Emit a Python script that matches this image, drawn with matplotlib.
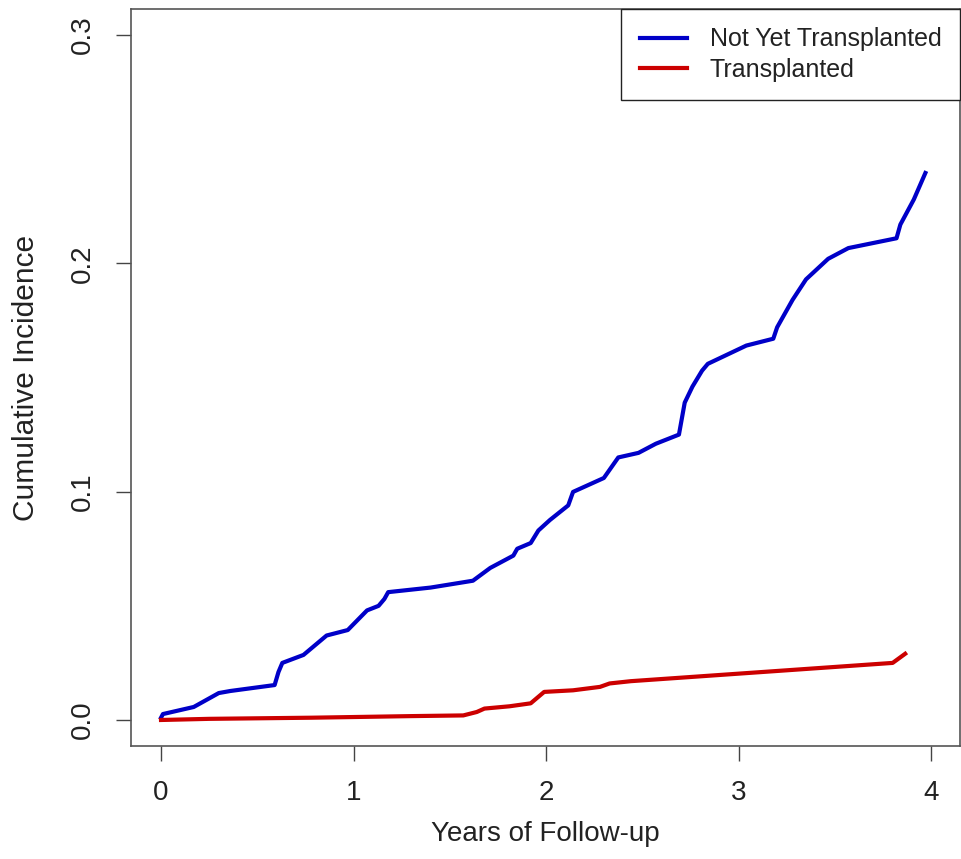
import matplotlib
matplotlib.use('Agg')
import matplotlib.pyplot as plt

plt.rcParams['font.family'] = ['Liberation Sans', 'DejaVu Sans']

# ── Dados ─────────────────────────────────────────────────────────────────────
years_not_tx = [0.00, 0.01, 0.17, 0.30, 0.36, 0.59, 0.61, 0.63, 0.74, 0.86,
                0.97, 1.07, 1.13, 1.16, 1.18, 1.40, 1.62, 1.71, 1.83, 1.85,
                1.92, 1.96, 2.02, 2.115, 2.14, 2.30, 2.375, 2.48, 2.57, 2.69,
                2.72, 2.76, 2.81, 2.84, 3.04, 3.18, 3.20, 3.28, 3.35, 3.465,
                3.57, 3.82, 3.84, 3.91, 3.97]
cif_not_tx = [0.0010, 0.0026, 0.0057, 0.0118, 0.0127, 0.0153, 0.0210, 0.0250,
              0.0285, 0.0370, 0.0394, 0.0480, 0.0500, 0.0530, 0.0560, 0.0580,
              0.0610, 0.0666, 0.0720, 0.0750, 0.0775, 0.0830, 0.0876, 0.0940,
              0.0999, 0.1060, 0.1150, 0.1170, 0.1210, 0.1250, 0.1390, 0.1460,
              0.1530, 0.1560, 0.1640, 0.1670, 0.1720, 0.1840, 0.1930, 0.2020,
              0.2067, 0.2110, 0.2170, 0.2280, 0.2396]

years_tx = [0.00, 0.25, 0.78, 1.30, 1.57, 1.64, 1.68, 1.81, 1.92, 1.99,
            2.14, 2.28, 2.33, 2.44, 3.80, 3.865]
cif_tx = [0.0000, 0.0005, 0.0010, 0.0017, 0.0020, 0.0035, 0.0050, 0.0060,
          0.0073, 0.0123, 0.0130, 0.0145, 0.0160, 0.0170, 0.0250, 0.0290]

labels = ['Not Yet Transplanted', 'Transplanted']
colors = ['#0000C8', '#CC0000']
x_ticks = [0, 1, 2, 3, 4]
y_ticks = [0.0, 0.1, 0.2, 0.3]
y_tick_labels = ['0.0', '0.1', '0.2', '0.3']

# ── Figura ────────────────────────────────────────────────────────────────────
fig = plt.figure(figsize=(9.61, 8.59), dpi=100)
ax = fig.add_axes([0.1363, 0.131, 0.8627, 0.859])

ax.plot(years_not_tx, cif_not_tx, color=colors[0], lw=3.0, label=labels[0],
        solid_joinstyle='round')
ax.plot(years_tx, cif_tx, color=colors[1], lw=3.0, label=labels[1],
        solid_joinstyle='round')

ax.set_xlim(-0.156, 4.15)
ax.set_ylim(-0.0116, 0.3116)

ax.set_xticks(x_ticks)
ax.set_yticks(y_ticks)
ax.set_yticklabels(y_tick_labels, rotation=90, va='center')
ax.tick_params(axis='both', direction='out', length=11, width=1,
               labelsize=20, color='#444444', labelcolor='#222222')
ax.tick_params(axis='x', pad=13)
ax.tick_params(axis='y', pad=14)

for sp in ax.spines.values():
    sp.set_color('#555555')
    sp.set_linewidth(1.2)

ax.set_xlabel('Years of Follow-up', fontsize=20, color='#222222', labelpad=11)
ax.set_ylabel('Cumulative Incidence', fontsize=21.5, color='#222222', labelpad=22)

leg = ax.legend(loc='upper right', bbox_to_anchor=(1.0, 1.0), borderaxespad=0,
                fontsize=18, frameon=True, fancybox=False, handlelength=1.88,
                handletextpad=0.92, labelspacing=0.25, borderpad=0.75)
leg.get_frame().set_edgecolor('#222222')
leg.get_frame().set_linewidth(1.0)
leg.get_frame().set_alpha(1)
for t in leg.get_texts():
    t.set_color('#222222')

fig.savefig('out.png', dpi=100)
